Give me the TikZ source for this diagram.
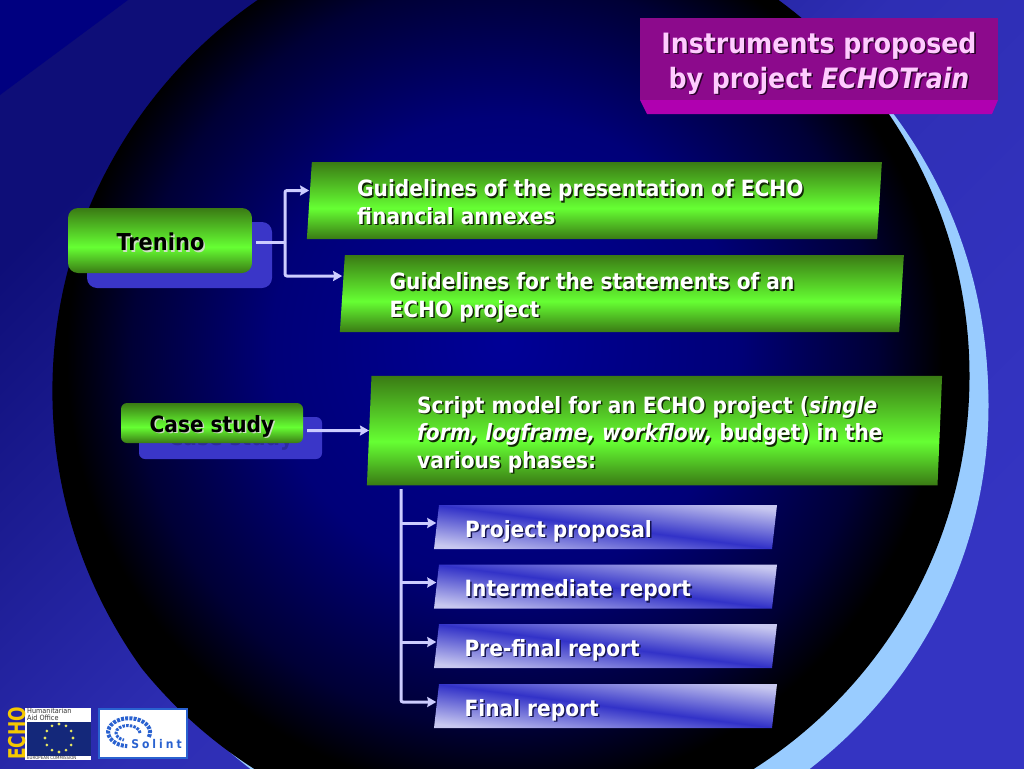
\documentclass[tikz,border=0pt]{standalone}
\usepackage{fontspec}
\setmainfont{DejaVu Sans Condensed}
\usetikzlibrary{shapes.geometric,arrows.meta}
\definecolor{washdark}{HTML}{0E0E78}
\definecolor{washmid}{HTML}{2E2EB4}
\definecolor{washend}{HTML}{3434C2}
\definecolor{orbmid}{HTML}{000096}
\definecolor{orbrim}{HTML}{000078}
\definecolor{orbdeep}{HTML}{000036}
\definecolor{crescent}{HTML}{99CCFF}
\definecolor{leafdark}{HTML}{3A7A14}
\definecolor{leaf}{HTML}{66FF33}
\definecolor{haze}{HTML}{C8C8F0}
\definecolor{haulblue}{HTML}{3232C8}
\definecolor{backplate}{HTML}{3A36C8}
\definecolor{linkcol}{HTML}{CCCCFF}
\definecolor{plum}{HTML}{8C0A8C}
\definecolor{plumlip}{HTML}{B000B0}
\definecolor{pinktext}{HTML}{FFCCFF}
\definecolor{eunavy}{HTML}{14287A}
\definecolor{eugold}{HTML}{F5C800}
\definecolor{eustar}{HTML}{E8E860}
\definecolor{solblue}{HTML}{2A62D0}
\definecolor{cornernavy}{HTML}{000080}
\pgfdeclareverticalshading{bgwash}{100bp}{color(0bp)=(washend); color(25bp)=(washend); color(50bp)=(washmid); color(75bp)=(washdark); color(100bp)=(washdark)}
\pgfdeclareradialshading{orbglow}{\pgfpoint{0bp}{1.9bp}}{color(0bp)=(orbmid); color(12.5bp)=(orbrim); color(20bp)=(orbdeep); color(23.5bp)=(black); color(50bp)=(black)}
\pgfdeclareverticalshading{greenbar}{100bp}{color(0bp)=(leafdark); color(25bp)=(leafdark); color(45bp)=(leaf); color(75bp)=(leafdark); color(100bp)=(leafdark)}
\pgfdeclareverticalshading{bluebar}{100bp}{color(0bp)=(haze); color(25bp)=(haze); color(50bp)=(haulblue); color(75bp)=(haze); color(100bp)=(haze)}
\newcommand{\shtxt}[2]{\makebox[0pt][l]{\kern1.5pt\raisebox{-1.5pt}{\textcolor{#1}{#2}}}#2}
\newcommand{\boxbody}[2]{\phantom{\rule{#1pt}{#2pt}}}
\tikzset{
  slantgreen/.style={trapezium, trapezium left angle=86.3, trapezium right angle=93.5, inner sep=0pt, shading=greenbar},
  slantblue/.style={trapezium, trapezium left angle=83.5, trapezium right angle=96.5, inner sep=0pt, shading=bluebar, shading angle=-7.4},
  bodytext/.style={text=white, anchor=west, align=left, inner sep=0pt, font=\fontsize{22.4}{27.5}\selectfont\bfseries},
  blacktext/.style={text=black, inner sep=0pt, font=\fontsize{22.4}{27.5}\selectfont\bfseries},
  link/.style={draw=linkcol, line width=3pt, rounded corners=2pt},
  linkarrow/.style={link, -{Stealth[length=9pt,width=10pt,inset=1pt]}},
}
\begin{document}
\begin{tikzpicture}[x=1pt,y=-1pt]
\useasboundingbox (0,0) rectangle (1024,768);
\clip (0,0) rectangle (1024,768);
% Backdrop
\shade[shading=bgwash, shading angle=45] (0,0) rectangle (1024,768);
\fill[cornernavy] (0,0) -- (128,0) -- (0,95) -- cycle;
\fill[crescent] (530,405.5) circle (458.5);
\fill[crescent] (514,-76) arc (-90:90:474) -- cycle;
\begin{scope}
\clip (527.4,391) circle (475);
\shade[shading=orbglow] (504,376) circle (465.5);
\end{scope}
% Title
\fill[plumlip] (640,100) -- (998,100) -- (992,114) -- (647,114) -- cycle;
\node[fill=plum, minimum width=358pt, minimum height=82pt, inner sep=0pt] (titlebox) at (819,59) {};
\node[text=pinktext, align=center, inner sep=0pt, font=\fontsize{28}{35}\selectfont\bfseries] (titletext) at (819,64)
  {\shtxt{black!70!plum}{Instruments proposed}\\\shtxt{black!70!plum}{by project \textit{ECHOTrain}}};
% Trenino branch
\node[fill=backplate, rounded corners=10pt, minimum width=185pt, minimum height=66pt, inner sep=0pt] (trenplate) at (179.5,255) {};
\node[shading=greenbar, rounded corners=10pt, minimum width=184pt, minimum height=65pt, inner sep=0pt] (trenino) at (160,240.5) {};
\node[blacktext, font=\fontsize{23.3}{27.5}\selectfont\bfseries] (trenlabel) at (160.5,243) {\shtxt{white!75!leafdark}{Trenino}};
\node[slantgreen] (annex) at (594.5,200.5) {\boxbody{565.3}{77}};
\node[bodytext] (annextext) at (357,203) {\shtxt{black!70!leafdark}{Guidelines of the presentation of ECHO}\\\shtxt{black!70!leafdark}{financial annexes}};
\node[slantgreen] (statement) at (622,293.5) {\boxbody{554.3}{77}};
\node[bodytext] (statetext) at (389.5,298) {\shtxt{black!70!leafdark}{Guidelines for the statements of an}\\\shtxt{black!70!leafdark}{ECHO project}};
\coordinate (fork) at (285,242);
\draw[link] ([shift={(4,1.5)}]trenino.east) -- (fork);
\draw[linkarrow] (fork) |- ([yshift=10]annex.west);
\draw[linkarrow] (fork) |- ([yshift=17.5]statement.west);
% Case study branch
\node[fill=backplate, rounded corners=6pt, minimum width=183pt, minimum height=42pt, inner sep=0pt] (caseplate) at (230.5,438) {};
\node[text=black!20!backplate, inner sep=0pt, font=\fontsize{22.4}{27.5}\selectfont\bfseries] (caseghost) at (231,439) {Case study};
\node[shading=greenbar, rounded corners=6pt, minimum width=182pt, minimum height=40pt, inner sep=0pt] (casestudy) at (212,423) {};
\node[blacktext] (caselabel) at (212,427) {\shtxt{white!75!leafdark}{Case study}};
\node[slantgreen, trapezium left angle=87.6, trapezium right angle=92.4] (script) at (654.5,430.5) {\boxbody{566}{109.5}};
\node[bodytext] (scripttext) at (417,435.5) {\shtxt{black!70!leafdark}{Script model for an ECHO project (\textit{single}}\\\shtxt{black!70!leafdark}{\textit{form, logframe, workflow,} budget) in the}\\\shtxt{black!70!leafdark}{various phases:}};
\draw[linkarrow] ([shift={(4,7.5)}]casestudy.east) -- (script.west);
% Report boxes
\node[slantblue] (proposal) at (605.5,527) {\boxbody{333}{44}};
\node[bodytext] (proposaltext) at (465,532) {\shtxt{black!60!haulblue}{Project proposal}};
\node[slantblue] (interim) at (605.5,586.5) {\boxbody{333}{44}};
\node[bodytext] (interimtext) at (464.5,591.5) {\shtxt{black!60!haulblue}{Intermediate report}};
\node[slantblue] (prefinal) at (605.5,646) {\boxbody{333}{44}};
\node[bodytext] (prefinaltext) at (464.5,651) {\shtxt{black!60!haulblue}{Pre-final report}};
\node[slantblue] (final) at (605.5,706) {\boxbody{333}{44}};
\node[bodytext] (finaltext) at (464.5,711) {\shtxt{black!60!haulblue}{Final report}};
\coordinate (trunktop) at (401,489);
\draw[linkarrow] (trunktop) |- ([yshift=4]final.west);
\draw[linkarrow] ([yshift=4]proposal.west -| trunktop) -- ([yshift=4]proposal.west);
\draw[linkarrow] ([yshift=4]interim.west -| trunktop) -- ([yshift=4]interim.west);
\draw[linkarrow] ([yshift=4]prefinal.west -| trunktop) -- ([yshift=4]prefinal.west);
% Logos
\fill[white] (25,708) rectangle (91,760);
\fill[eunavy] (27,722) rectangle (91,756);
\node[rotate=90, text=eugold, inner sep=0pt, font=\fontsize{22}{22}\selectfont\bfseries] (echomark) at (17,733.5) {\scalebox{0.86}[1.05]{ECHO}};
\node[anchor=north west, align=left, inner sep=0pt, text=black!80, font=\fontsize{7.2}{7.2}\selectfont] (echoname) at (27,708) {Humanitarian\\Aid Office};
\node[anchor=west, inner sep=0pt, text=black!80, font=\fontsize{4.4}{5}\selectfont] (echofoot) at (27,758) {EUROPEAN COMMISSION};
\foreach \a in {0,30,...,330} \fill[eustar] (59,738) ++(\a:14) circle (1.6);
\node[draw=solblue, line width=2pt, fill=white, minimum width=88pt, minimum height=49pt, inner sep=0pt] (solbox) at (143,733.5) {};
\draw[solblue, line width=4pt, dash pattern=on 3pt off 1.2pt] (148.8,737) arc (20:-265:21 and 14);
\draw[solblue, line width=3pt, dash pattern=on 2.5pt off 1.2pt] (140,733) arc (0:-250:12 and 7.5);
\node[text=solblue, inner sep=0pt, font=\fontsize{12}{12}\selectfont\bfseries] (solname) at (156.5,744.5) {\addfontfeature{LetterSpace=25}Solint};
\end{tikzpicture}
\end{document}
